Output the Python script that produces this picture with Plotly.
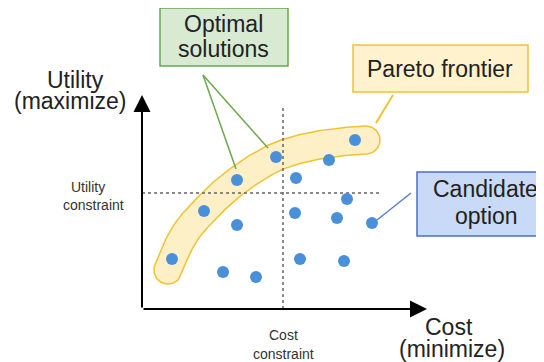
import numpy as np
import plotly.graph_objects as go

# candidate options (cost, utility) in chart units
cost = [3.0, 6.2, 9.5, 13.4, 21.3, 18.7, 15.4, 20.5, 15.3, 19.5, 23.0, 9.5, 15.8, 20.2, 8.1, 11.4]
utility = [5.0, 9.8, 12.9, 15.2, 16.9, 14.9, 13.1, 11.0, 9.6, 9.1, 8.6, 8.4, 5.0, 4.8, 3.7, 3.2]

cost_constraint = 14.1
utility_constraint = 11.6

# centre line of the pareto band (cost, utility)
band_cost = [2.6, 3.4, 4.6, 6.2, 7.8, 9.5, 11.4, 13.4, 15.8, 18.3, 20.8, 22.4]
band_util = [3.9, 5.9, 8.0, 9.8, 11.4, 12.8, 14.1, 15.2, 16.0, 16.5, 16.8, 16.9]
band_half = 1.4

FONT = "Liberation Sans, Arial, sans-serif"
W, H = 544, 362
OFF = 8                      # page margin of the browser
X0, Y0, S = 142, 309, 10.0   # pixel position of origin, pixels per unit


def ux(px):
    return (px - X0) / S


def uy(py):
    return (Y0 - py) / S


def catmull(xs, ys, n=20):
    p = np.column_stack([xs, ys]).astype(float)
    p = np.vstack([p[0], p, p[-1]])
    out = []
    for i in range(1, len(p) - 2):
        p0, p1, p2, p3 = p[i - 1], p[i], p[i + 1], p[i + 2]
        for t in np.linspace(0, 1, n, endpoint=False):
            t2, t3 = t * t, t * t * t
            out.append(0.5 * (2 * p1 + (-p0 + p2) * t + (2 * p0 - 5 * p1 + 4 * p2 - p3) * t2
                              + (-p0 + 3 * p1 - 3 * p2 + p3) * t3))
    out.append(p[-2])
    return np.array(out)


c = catmull(band_cost, band_util)
d = np.gradient(c, axis=0)
d = d / np.linalg.norm(d, axis=1)[:, None]
nrm = np.column_stack([-d[:, 1], d[:, 0]])
upper = c + nrm * band_half
lower = c - nrm * band_half
a_end = np.arctan2(nrm[-1, 1], nrm[-1, 0])
a_st = np.arctan2(nrm[0, 1], nrm[0, 0])
arc_end = np.linspace(a_end, a_end - np.pi, 30)
arc_st = np.linspace(a_st + np.pi, a_st, 30)
cap_end = c[-1] + band_half * np.column_stack([np.cos(arc_end), np.sin(arc_end)])
cap_st = c[0] + band_half * np.column_stack([np.cos(arc_st), np.sin(arc_st)])
outline = np.vstack([upper, cap_end, lower[::-1], cap_st])

fig = go.Figure()

fig.add_trace(go.Scatter(x=outline[:, 0], y=outline[:, 1], mode="lines", fill="toself",
                         fillcolor="#fdefc6", line=dict(color="#f1c232", width=1.5),
                         hoverinfo="skip"))

# constraint lines
fig.add_trace(go.Scatter(x=[cost_constraint, cost_constraint], y=[0, uy(108)], mode="lines",
                         line=dict(color="#666", width=1.5, dash="3px,3px")))
fig.add_trace(go.Scatter(x=[0, ux(380)], y=[utility_constraint, utility_constraint], mode="lines",
                         line=dict(color="#666", width=1.5, dash="3px,3px")))

# callout lines
fig.add_trace(go.Scatter(x=[ux(203), ux(236), None, ux(203), ux(268)],
                         y=[uy(75), uy(169), None, uy(75), uy(148)], mode="lines",
                         line=dict(color="#6aa84f", width=1.5)))
fig.add_trace(go.Scatter(x=[ux(393), ux(376)], y=[uy(95), uy(123)], mode="lines",
                         line=dict(color="#f1c232", width=2)))
fig.add_trace(go.Scatter(x=[ux(411), ux(377)], y=[uy(193), uy(220)], mode="lines",
                         line=dict(color="#5b7fd0", width=1.5)))

fig.add_trace(go.Scatter(x=cost, y=utility, mode="markers",
                         marker=dict(size=12, color="#4a90d9")))

shapes = []
anns = []


def label(text, cx, base, size, color="#222"):
    anns.append(dict(x=ux(cx), y=uy(base - 0.35 * size), text=text, showarrow=False,
                     xanchor="center", yanchor="middle",
                     font=dict(size=size, color=color, family=FONT)))


def box(x0, y0, x1, y1, fill, edge):
    shapes.append(dict(type="rect", xref="x", yref="y", x0=ux(x0), x1=ux(x1), y0=uy(y0), y1=uy(y1),
                       fillcolor=fill, line=dict(color=edge, width=1.5), layer="above"))


box(160, 8, 288, 66, "#d9ead3", "#6aa84f")
label("Optimal", 223, 32, 23)
label("solutions", 223, 57, 23)

box(353, 45, 528, 92, "#fff2cc", "#f1c232")
label("Pareto frontier", 440, 77, 23)

box(417, 172, 550, 236, "#c9daf8", "#4a6fc8")
label("Candidate", 485, 197, 23)
label("option", 486, 224, 23)

# axes
anns.append(dict(x=ux(427), y=0, ax=0, ay=0, axref="x", ayref="y", xref="x", yref="y", text="",
                 showarrow=True, arrowhead=2, arrowsize=1.7, arrowwidth=2, arrowcolor="#000"))
anns.append(dict(x=0, y=uy(95), ax=0, ay=0, axref="x", ayref="y", xref="x", yref="y", text="",
                 showarrow=True, arrowhead=2, arrowsize=1.7, arrowwidth=2, arrowcolor="#000"))

label("Utility", 75, 88, 23)
label("(maximize)", 70, 109, 23)
label("Utility", 88, 192, 14, "#333")
label("constraint", 93, 210, 14, "#333")
label("Cost", 283, 340, 14, "#333")
label("constraint", 283, 359, 14, "#333")
label("Cost", 449, 335, 23)
label("(minimize)", 452, 357, 23)

fig.update_layout(
    width=W, height=H, margin=dict(l=0, r=0, t=0, b=0),
    paper_bgcolor="white", plot_bgcolor="white", showlegend=False,
    shapes=shapes, annotations=anns,
    xaxis=dict(range=[ux(OFF), ux(W + OFF)], visible=False, fixedrange=True),
    yaxis=dict(range=[uy(H + OFF), uy(OFF)], visible=False, fixedrange=True),
)

fig.write_html("out.html")
